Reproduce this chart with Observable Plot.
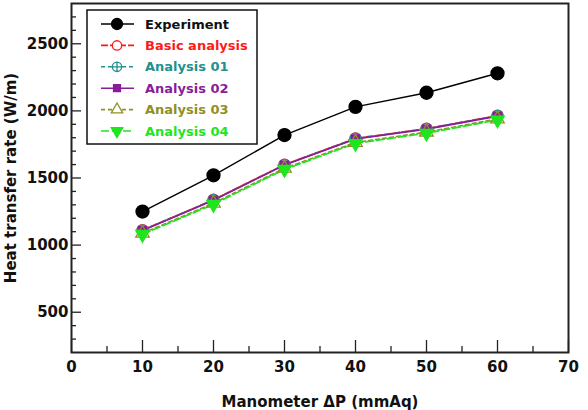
<!DOCTYPE html>
<html><head><meta charset="utf-8">
<script src="https://cdn.jsdelivr.net/npm/d3@7"></script>
<script src="https://cdn.jsdelivr.net/npm/@observablehq/plot@0.6"></script>
<style>body{margin:0;background:#fff}</style>
</head><body><div id="chart"></div>
<script>
// ---- data ----
const pressure = [10, 20, 30, 40, 50, 60];
const experiment = [1250, 1520, 1820, 2030, 2135, 2280];
const basicAnalysis = [1112, 1338, 1600, 1795, 1868, 1965];
const analysis01 = [1110, 1336, 1598, 1793, 1866, 1963];
const analysis02 = [1108, 1334, 1596, 1791, 1864, 1961];
const analysis03 = [1088, 1312, 1572, 1765, 1842, 1940];
const analysis04 = [1080, 1304, 1564, 1757, 1834, 1932];
const seriesNames = ["Experiment", "Basic analysis", "Analysis 01", "Analysis 02", "Analysis 03", "Analysis 04"];
const xTicks = [0, 10, 20, 30, 40, 50, 60, 70];
const xMinorTicks = [5, 15, 25, 35, 45, 55, 65];
const yTicks = [500, 1000, 1500, 2000, 2500];
const yMinorTicks = [300, 400, 600, 700, 800, 900, 1100, 1200, 1300, 1400, 1600, 1700, 1800, 1900, 2100, 2200, 2300, 2400, 2600, 2700];
const xLabel = "Manometer ΔP (mmAq)";
const yLabel = "Heat transfer rate (W/m)";

// ---- symbols ----
const sqrt3 = Math.sqrt(3);
const triangleDown = {draw(ctx, size) {
  const y = -Math.sqrt(size / (sqrt3 * 3));
  ctx.moveTo(0, -y * 2); ctx.lineTo(-sqrt3 * y, y); ctx.lineTo(sqrt3 * y, y); ctx.closePath();
}};
const circlePlus = {draw(ctx, size) {
  const r = Math.sqrt(size / Math.PI);
  ctx.moveTo(r, 0); ctx.arc(0, 0, r, 0, 2 * Math.PI);
  ctx.moveTo(-r, 0); ctx.lineTo(r, 0); ctx.moveTo(0, -r); ctx.lineTo(0, r);
}};

const seriesValues = [experiment, basicAnalysis, analysis01, analysis02, analysis03, analysis04];
const styles = [
  {color: "#000000", dash: null, symbol: d3.symbolCircle, r: 6.5, fill: true},
  {color: "#ff1a1a", dash: "7,2", symbol: d3.symbolCircle, r: 5.5, fill: false},
  {color: "#21918f", dash: "4,3", symbol: circlePlus, r: 5.5, fill: false},
  {color: "#8a1c9c", dash: null, symbol: d3.symbolSquare, r: 4.6, fill: true},
  {color: "#8f8f25", dash: "4,3", symbol: d3.symbolTriangle, r: 5, fill: false},
  {color: "#1ee61e", dash: "8,3", symbol: triangleDown, r: 5, fill: true}
];

const W = 588, H = 410, mL = 71, mR = 20, mT = 3, mB = 58;
const plotW = W - mL - mR, plotH = H - mT - mB;

const marks = [];
seriesValues.forEach((vals, k) => {
  const rows = pressure.map((p, i) => ({p, v: vals[i], s: seriesNames[k]}));
  const st = styles[k];
  marks.push(Plot.line(rows, {x: "p", y: "v", stroke: st.color, strokeWidth: k === 0 ? 1.4 : 1.6, strokeDasharray: st.dash}));
});
seriesValues.forEach((vals, k) => {
  const rows = pressure.map((p, i) => ({p, v: vals[i], s: seriesNames[k]}));
  const st = styles[k];
  marks.push(Plot.dot(rows, {x: "p", y: "v", symbol: st.symbol, r: st.r,
    fill: st.fill ? st.color : "none", stroke: st.color, strokeWidth: 1.3}));
});

const chart = Plot.plot({
  width: W, height: H,
  marginLeft: mL, marginRight: mR, marginTop: mT, marginBottom: mB,
  style: {fontFamily: "DejaVu Sans", fontWeight: "bold", fontSize: "15px", color: "#111", background: "#fff"},
  x: {domain: [0, 70]},
  y: {domain: [200, 2800]},
  marks: [
    Plot.axisX(xTicks, {tickSize: 0, tickPadding: 9, label: null, fontSize: 15, tickFormat: d3.format("d")}),
    Plot.axisY(yTicks, {tickSize: 0, tickPadding: 3, label: null, fontSize: 15, tickFormat: d3.format("d")}),
    Plot.tickX(xTicks, {x: d => d, insetTop: plotH - 12, stroke: "#222", strokeWidth: 1.3}),
    Plot.tickX(xMinorTicks, {x: d => d, insetTop: plotH - 6, stroke: "#222", strokeWidth: 1.3}),
    Plot.tickY(yTicks, {y: d => d, insetRight: plotW - 10, stroke: "#222", strokeWidth: 1.3}),
    Plot.tickY(yMinorTicks, {y: d => d, insetRight: plotW - 5, stroke: "#222", strokeWidth: 1.3}),
    ...marks,
    Plot.frame({stroke: "#222", strokeWidth: 2}),
    Plot.text([xLabel], {frameAnchor: "bottom", dy: 54, lineAnchor: "bottom", textAnchor: "middle", fontSize: 15, fill: "#111"}),
    Plot.text([yLabel], {frameAnchor: "left", dx: -60, rotate: -90, textAnchor: "middle", lineAnchor: "middle", fontSize: 15, fill: "#111"})
  ]
});

// ---- legend ----
const svg = d3.select(chart);
const lg = svg.append("g").attr("text-anchor", "start");
lg.append("rect").attr("x", 87).attr("y", 10).attr("width", 170).attr("height", 134)
  .attr("fill", "#fff").attr("stroke", "#111").attr("stroke-width", 1.5);
seriesNames.forEach((name, k) => {
  const st = styles[k];
  const y = 24 + k * 21.4;
  const lr = st.r * 0.85;
  lg.append("line").attr("x1", 101).attr("x2", 134).attr("y1", y).attr("y2", y)
    .attr("stroke", st.color).attr("stroke-width", 1.6).attr("stroke-dasharray", st.dash);
  lg.append("path").attr("d", d3.symbol(st.symbol, Math.PI * lr * lr)())
    .attr("transform", `translate(117,${y})`)
    .attr("fill", st.fill ? st.color : "#fff").attr("stroke", st.color).attr("stroke-width", 1.3);
  lg.append("text").attr("x", 145).attr("y", y).attr("dy", "0.35em")
    .attr("text-anchor", "start")
    .attr("fill", st.color === "#000000" ? "#111" : st.color)
    .attr("font-size", 13).attr("font-weight", "bold").attr("font-family", "DejaVu Sans")
    .text(name);
});

document.getElementById("chart").append(chart);
</script>
</body></html>
